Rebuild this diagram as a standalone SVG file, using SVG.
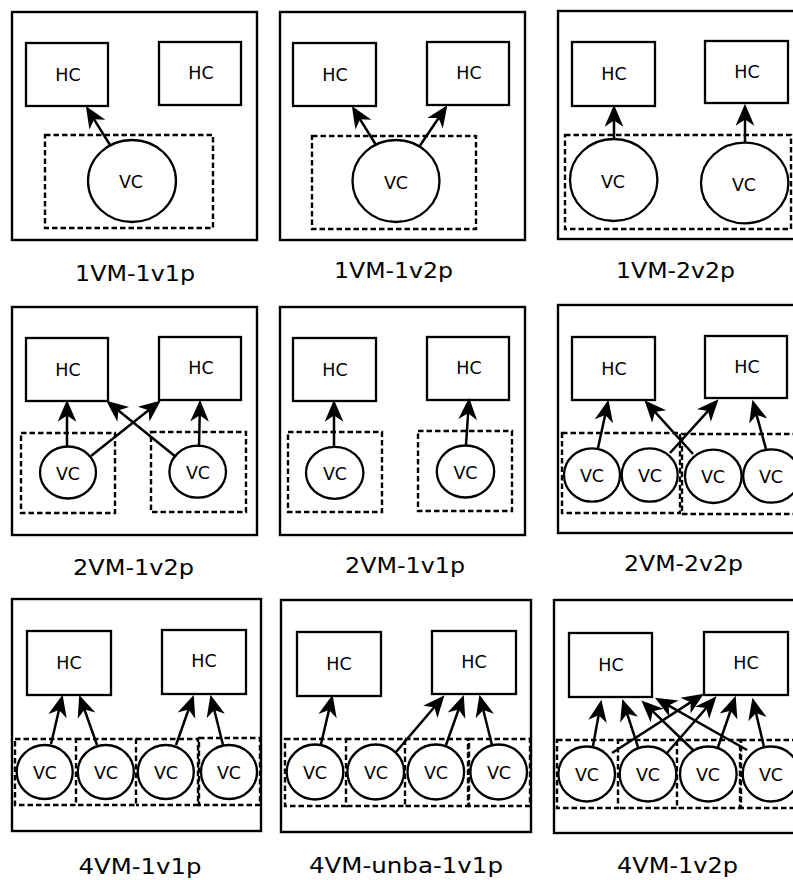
<svg xmlns="http://www.w3.org/2000/svg" width="793" height="880" viewBox="0 0 793 880">
<style>
.box{fill:#fff;stroke:#000;stroke-width:2.4}
.hc{fill:#fff;stroke:#000;stroke-width:2.3}
.vm{fill:none;stroke:#000;stroke-width:2.4;stroke-dasharray:5.5,3}
.vc{fill:#fff;stroke:#000;stroke-width:2.3}
.arr{fill:none;stroke:#000;stroke-width:2.5;marker-end:url(#ah)}
.t{font-family:"DejaVu Sans",sans-serif;font-size:17.5px;text-anchor:middle;fill:#000}
.lbl{font-family:"DejaVu Sans",sans-serif;font-size:22px;text-anchor:middle;fill:#000}
</style>
<defs>
<marker id="ah" markerUnits="userSpaceOnUse" markerWidth="30" markerHeight="30" viewBox="-12 -12 24 24" refX="0" refY="0" orient="auto" overflow="visible">
<path d="M9,0 L-8.5,-7.5 L-3.5,0 L-8.5,7.5 Z" fill="#000"/>
</marker>
</defs>
<rect width="793" height="880" fill="#fff"/>

<!-- Panel 1 -->
<g id="p1">
<rect class="box" x="12" y="12" width="245" height="228"/>
<rect id="p1-vm1" class="vm" x="45" y="135" width="168" height="93"/>
<g id="p1-hc1"><rect class="hc" x="26" y="43" width="82" height="63"/><text class="t" x="68" y="81">HC</text></g>
<g id="p1-hc2"><rect class="hc" x="159" y="42" width="82" height="63"/><text class="t" x="201" y="79">HC</text></g>
<g id="p1-vc1"><ellipse class="vc" cx="132" cy="181" rx="44" ry="41"/><text class="t" x="131" y="188">VC</text></g>
<text class="lbl" x="135" y="281" textLength="120" lengthAdjust="spacingAndGlyphs">1VM-1v1p</text>
</g>

<!-- Panel 2 -->
<g id="p2">
<rect class="box" x="280" y="12" width="245" height="228"/>
<rect id="p2-vm1" class="vm" x="312" y="136" width="164" height="93"/>
<g id="p2-hc1"><rect class="hc" x="293" y="43" width="83" height="63"/><text class="t" x="335" y="81">HC</text></g>
<g id="p2-hc2"><rect class="hc" x="427" y="42" width="82" height="63"/><text class="t" x="469" y="79">HC</text></g>
<g id="p2-vc1"><ellipse class="vc" cx="396" cy="181" rx="43.5" ry="41"/><text class="t" x="396" y="189">VC</text></g>
<text class="lbl" x="393.5" y="278" textLength="119" lengthAdjust="spacingAndGlyphs">1VM-1v2p</text>
</g>

<!-- Panel 3 -->
<g id="p3">
<rect class="box" x="558" y="11" width="250" height="228"/>
<rect id="p3-vm1" class="vm" x="565" y="135" width="226" height="94"/>
<g id="p3-hc1"><rect class="hc" x="572" y="42" width="83" height="64"/><text class="t" x="614" y="80">HC</text></g>
<g id="p3-hc2"><rect class="hc" x="705" y="41" width="83" height="62"/><text class="t" x="747" y="78">HC</text></g>
<g id="p3-vc1"><ellipse class="vc" cx="613.7" cy="180" rx="43.7" ry="41"/><text class="t" x="613" y="188">VC</text></g>
<g id="p3-vc2"><ellipse class="vc" cx="744.7" cy="183" rx="43.7" ry="40.3"/><text class="t" x="744" y="191">VC</text></g>
<text class="lbl" x="675.5" y="278" textLength="119" lengthAdjust="spacingAndGlyphs">1VM-2v2p</text>
</g>

<!-- Panel 4 -->
<g id="p4">
<rect class="box" x="12" y="307" width="245" height="228"/>
<rect id="p4-vm1" class="vm" x="21" y="433" width="94" height="80"/>
<rect id="p4-vm2" class="vm" x="151" y="432" width="95" height="80"/>
<g id="p4-hc1"><rect class="hc" x="26" y="338" width="82" height="63"/><text class="t" x="68" y="376">HC</text></g>
<g id="p4-hc2"><rect class="hc" x="159" y="337" width="82" height="63"/><text class="t" x="201" y="374">HC</text></g>
<g id="p4-vc1"><ellipse class="vc" cx="68" cy="472.5" rx="28" ry="26"/><text class="t" x="68" y="479.5">VC</text></g>
<g id="p4-vc2"><ellipse class="vc" cx="197.7" cy="471.7" rx="28.3" ry="26"/><text class="t" x="198" y="478.5">VC</text></g>
<text class="lbl" x="133.5" y="575" textLength="121" lengthAdjust="spacingAndGlyphs">2VM-1v2p</text>
</g>

<!-- Panel 5 -->
<g id="p5">
<rect class="box" x="280" y="307" width="245" height="228"/>
<rect id="p5-vm1" class="vm" x="288" y="432" width="94" height="80"/>
<rect id="p5-vm2" class="vm" x="418" y="431" width="94" height="80"/>
<g id="p5-hc1"><rect class="hc" x="293" y="338" width="83" height="63"/><text class="t" x="335" y="376">HC</text></g>
<g id="p5-hc2"><rect class="hc" x="427" y="337" width="82" height="63"/><text class="t" x="469" y="374">HC</text></g>
<g id="p5-vc1"><ellipse class="vc" cx="334.7" cy="472.8" rx="28.7" ry="26"/><text class="t" x="335" y="479.5">VC</text></g>
<g id="p5-vc2"><ellipse class="vc" cx="465.5" cy="471.5" rx="28.7" ry="26"/><text class="t" x="465.5" y="478.5">VC</text></g>
<text class="lbl" x="405" y="573" textLength="120" lengthAdjust="spacingAndGlyphs">2VM-1v1p</text>
</g>

<!-- Panel 6 -->
<g id="p6">
<rect class="box" x="558" y="305" width="250" height="228"/>
<rect id="p6-vm1" class="vm" x="562" y="433" width="118" height="80"/>
<rect id="p6-vm2" class="vm" x="682" y="434" width="120" height="80"/>
<g id="p6-hc1"><rect class="hc" x="572" y="337" width="83" height="63"/><text class="t" x="614" y="375">HC</text></g>
<g id="p6-hc2"><rect class="hc" x="705" y="336" width="82" height="62"/><text class="t" x="747" y="373">HC</text></g>
<g id="p6-vc1"><ellipse class="vc" cx="592" cy="475" rx="28" ry="26.7"/><text class="t" x="592" y="482">VC</text></g>
<g id="p6-vc2"><ellipse class="vc" cx="649.7" cy="475" rx="28" ry="26.7"/><text class="t" x="650" y="482">VC</text></g>
<g id="p6-vc3"><ellipse class="vc" cx="713.3" cy="476.3" rx="28.3" ry="26.7"/><text class="t" x="713" y="483">VC</text></g>
<g id="p6-vc4"><ellipse class="vc" cx="771.5" cy="476" rx="28.3" ry="26.7"/><text class="t" x="771" y="483">VC</text></g>
<text class="lbl" x="683.5" y="571" textLength="119" lengthAdjust="spacingAndGlyphs">2VM-2v2p</text>
</g>

<!-- Panel 7 -->
<g id="p7">
<rect class="box" x="12" y="599" width="249" height="232"/>
<rect id="p7-vm1" class="vm" x="15" y="739" width="61" height="66"/>
<path id="p7-vm2" class="vm" d="M76,739 H136 V805 H76"/>
<path id="p7-vm3" class="vm" d="M136,739 H198 V805 H136"/>
<rect id="p7-vm4" class="vm" x="199" y="738" width="61" height="67"/>
<g id="p7-hc1"><rect class="hc" x="27" y="631" width="84" height="64"/><text class="t" x="69" y="669">HC</text></g>
<g id="p7-hc2"><rect class="hc" x="162" y="630" width="84" height="64"/><text class="t" x="204" y="667">HC</text></g>
<g id="p7-vc1"><ellipse class="vc" cx="44.7" cy="772" rx="28" ry="27"/><text class="t" x="45" y="779">VC</text></g>
<g id="p7-vc2"><ellipse class="vc" cx="105.8" cy="772" rx="28" ry="27"/><text class="t" x="106" y="779">VC</text></g>
<g id="p7-vc3"><ellipse class="vc" cx="165.8" cy="772" rx="28" ry="27"/><text class="t" x="166" y="779">VC</text></g>
<g id="p7-vc4"><ellipse class="vc" cx="229" cy="772" rx="28" ry="27"/><text class="t" x="229" y="779">VC</text></g>
<text class="lbl" x="140" y="874" textLength="123" lengthAdjust="spacingAndGlyphs">4VM-1v1p</text>
</g>

<!-- Panel 8 -->
<g id="p8">
<rect class="box" x="281" y="600" width="250" height="232"/>
<rect id="p8-vm1" class="vm" x="285" y="739" width="61" height="67"/>
<path id="p8-vm2" class="vm" d="M346,739 H405 V806 H346"/>
<path id="p8-vm3" class="vm" d="M405,739 H468 V806 H405"/>
<rect id="p8-vm4" class="vm" x="469" y="739" width="61" height="67"/>
<g id="p8-hc1"><rect class="hc" x="297" y="632" width="84" height="64"/><text class="t" x="339" y="670">HC</text></g>
<g id="p8-hc2"><rect class="hc" x="432" y="631" width="84" height="63"/><text class="t" x="474" y="668">HC</text></g>
<g id="p8-vc1"><ellipse class="vc" cx="315" cy="772" rx="28.3" ry="27.5"/><text class="t" x="315" y="779">VC</text></g>
<g id="p8-vc2"><ellipse class="vc" cx="375.7" cy="772" rx="28.3" ry="27.5"/><text class="t" x="376" y="779">VC</text></g>
<g id="p8-vc3"><ellipse class="vc" cx="435.8" cy="772" rx="28.3" ry="27.5"/><text class="t" x="436" y="779">VC</text></g>
<g id="p8-vc4"><ellipse class="vc" cx="498.7" cy="772" rx="28.3" ry="27.5"/><text class="t" x="499" y="779">VC</text></g>
<text class="lbl" x="406" y="873" textLength="194" lengthAdjust="spacingAndGlyphs">4VM-unba-1v1p</text>
</g>

<!-- Panel 9 -->
<g id="p9">
<rect class="box" x="554" y="600" width="250" height="233"/>
<rect id="p9-vm1" class="vm" x="557" y="740" width="61" height="68"/>
<path id="p9-vm2" class="vm" d="M618,740 H677 V808 H618"/>
<path id="p9-vm3" class="vm" d="M677,740 H740 V808 H677"/>
<rect id="p9-vm4" class="vm" x="741" y="740" width="61" height="68"/>
<g id="p9-hc1"><rect class="hc" x="569" y="633" width="83" height="64"/><text class="t" x="611" y="671">HC</text></g>
<g id="p9-hc2"><rect class="hc" x="704" y="632" width="84" height="63"/><text class="t" x="746" y="669">HC</text></g>
<g id="p9-vc1"><ellipse class="vc" cx="586.7" cy="774" rx="28.3" ry="27.5"/><text class="t" x="587" y="781">VC</text></g>
<g id="p9-vc2"><ellipse class="vc" cx="648" cy="774" rx="28.3" ry="27.5"/><text class="t" x="648" y="781">VC</text></g>
<g id="p9-vc3"><ellipse class="vc" cx="708.3" cy="774" rx="28.3" ry="27.5"/><text class="t" x="708" y="781">VC</text></g>
<g id="p9-vc4"><ellipse class="vc" cx="771" cy="774" rx="28.3" ry="27.5"/><text class="t" x="771" y="781">VC</text></g>
<text class="lbl" x="677.5" y="873" textLength="121" lengthAdjust="spacingAndGlyphs">4VM-1v2p</text>
</g>

<g id="connectors">
<line class="arr" x1="110" y1="145" x2="91.8" y2="115.6"/>
<line class="arr" x1="376" y1="145" x2="357.8" y2="115.6"/>
<line class="arr" x1="419" y1="147" x2="441" y2="114.5"/>
<line class="arr" x1="614" y1="139" x2="614" y2="116"/>
<line class="arr" x1="745" y1="143" x2="745" y2="115"/>
<line class="arr" x1="67" y1="447" x2="67" y2="411"/>
<line class="arr" x1="91" y1="456" x2="152" y2="407.6"/>
<line class="arr" x1="176" y1="457" x2="115" y2="407.7"/>
<line class="arr" x1="199" y1="447" x2="199.8" y2="411"/>
<line class="arr" x1="334" y1="447" x2="334" y2="411"/>
<line class="arr" x1="466" y1="445" x2="468.4" y2="409"/>
<line class="arr" x1="598" y1="448" x2="606.1" y2="410.8"/>
<line class="arr" x1="693" y1="454" x2="652" y2="408.7"/>
<line class="arr" x1="670" y1="453" x2="711" y2="407.7"/>
<line class="arr" x1="766" y1="449" x2="755.4" y2="410.7"/>
<line class="arr" x1="51" y1="744" x2="60" y2="705.8"/>
<line class="arr" x1="97" y1="745" x2="83" y2="705.5"/>
<line class="arr" x1="176" y1="745" x2="190" y2="705.5"/>
<line class="arr" x1="223" y1="745" x2="213.2" y2="705.7"/>
<line class="arr" x1="321" y1="744" x2="330" y2="705.8"/>
<line class="arr" x1="396" y1="752" x2="437.2" y2="703.8"/>
<line class="arr" x1="446" y1="745" x2="460" y2="705.5"/>
<line class="arr" x1="492" y1="745" x2="482.2" y2="705.7"/>
<line class="arr" x1="593" y1="746" x2="599.4" y2="710.9"/>
<line class="arr" x1="638" y1="747" x2="625.8" y2="709.6"/>
<line class="arr" x1="693" y1="750" x2="649.5" y2="708.2"/>
<line class="arr" x1="747" y1="750" x2="664.8" y2="703.4"/>
<line class="arr" x1="612" y1="753" x2="694.4" y2="699.9"/>
<line class="arr" x1="667" y1="753" x2="709.1" y2="704.8"/>
<line class="arr" x1="718" y1="747" x2="732" y2="706.5"/>
<line class="arr" x1="764" y1="747" x2="755" y2="708.8"/>
</g>
</svg>
